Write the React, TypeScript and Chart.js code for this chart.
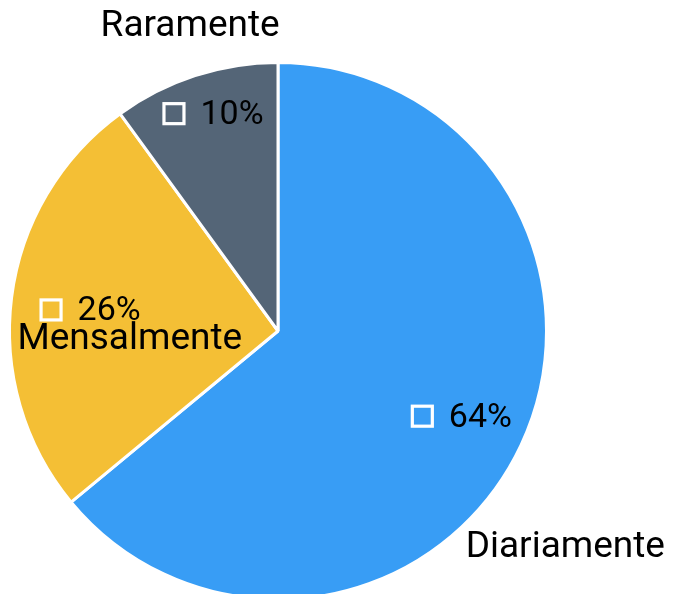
import React, { useEffect, useRef } from "react";
import { Chart, registerables } from "chart.js";

Chart.register(...registerables);

const categories = ["Diariamente", "Mensalmente", "Raramente"];
const values = [64, 26, 10];
const percentLabels = ["64%", "26%", "10%"];
const colors = ["#389DF5", "#F4BF35", "#546577"];

// label placement styles (fraction of radius, angle offset in degrees)
const pctRadius = [0.75, 0.705, 0.852];
const pctAngleOffset = [-0.8, -0.2, 1.5];
const nameRadius = [1.34, 0.553, 1.18];
const nameAngleOffset = [11.8, -10.7, 1.9];

const FONT = "Roboto, 'Noto Sans', sans-serif";

const labelPlugin = {
  id: "sliceLabels",
  afterDatasetsDraw(chart: any) {
    const ctx = chart.ctx;
    const meta = chart.getDatasetMeta(0);
    ctx.save();
    meta.data.forEach((arc: any, i: number) => {
      const { x, y, startAngle, endAngle, outerRadius } = arc.getProps(
        ["x", "y", "startAngle", "endAngle", "outerRadius"],
        true
      );
      const mid = (startAngle + endAngle) / 2;
      // percent label with square
      const a1 = mid + (pctAngleOffset[i] * Math.PI) / 180;
      const px = x + Math.cos(a1) * outerRadius * pctRadius[i];
      const py = y + Math.sin(a1) * outerRadius * pctRadius[i] + 2;
      ctx.font = `34px ${FONT}`;
      const tw = ctx.measureText(percentLabels[i]).width;
      const sq = 20;
      const gap = 15;
      const total = sq + 3 + gap + tw;
      const left = px - total / 2;
      ctx.strokeStyle = "#ffffff";
      ctx.lineWidth = 3.2;
      ctx.strokeRect(left + 1.5, py - sq / 2, sq, sq);
      ctx.fillStyle = "#000000";
      ctx.textAlign = "left";
      ctx.textBaseline = "middle";
      ctx.fillText(percentLabels[i], left + sq + 3 + gap, py + 2);
      // category name
      const a2 = mid + (nameAngleOffset[i] * Math.PI) / 180;
      const nx = x + Math.cos(a2) * outerRadius * nameRadius[i];
      const ny = y + Math.sin(a2) * outerRadius * nameRadius[i];
      ctx.font = `37px ${FONT}`;
      ctx.textAlign = "center";
      ctx.fillText(categories[i], nx, ny);
    });
    ctx.restore();
  },
};

export default function App() {
  const ref = useRef<HTMLCanvasElement>(null);
  useEffect(() => {
    if (!ref.current) return;
    const chart = new Chart(ref.current, {
      type: "pie",
      data: {
        labels: categories,
        datasets: [
          {
            data: values,
            backgroundColor: colors,
            borderColor: "#ffffff",
            borderWidth: 3,
          },
        ],
      },
      options: {
        responsive: false,
        animation: false,
        layout: { padding: { left: 8, right: 126, top: 61, bottom: 19 } },
        plugins: {
          legend: { display: false },
          tooltip: { enabled: false },
        },
      },
      plugins: [labelPlugin],
    });
    return () => chart.destroy();
  }, []);
  return (
    <div style={{ position: "fixed", left: 0, top: 0, width: 674, height: 620, background: "#fff" }}>
      <canvas ref={ref} width={674} height={620} style={{ display: "block" }} />
    </div>
  );
}
